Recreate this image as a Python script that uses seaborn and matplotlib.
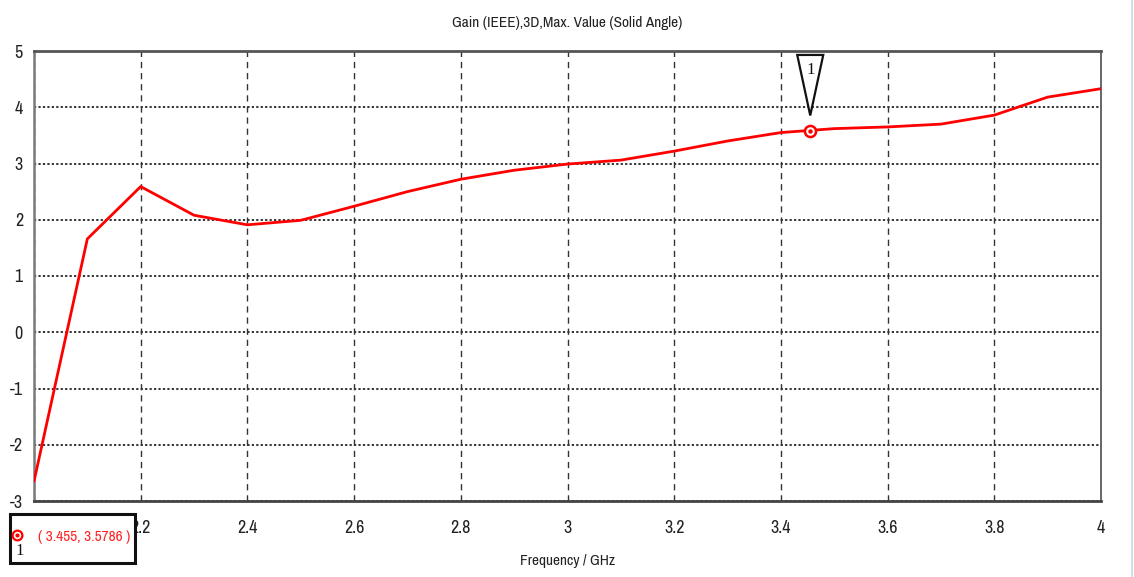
import matplotlib
matplotlib.use("Agg")
import matplotlib.pyplot as plt
import matplotlib.transforms as mtransforms
from matplotlib import font_manager as fm
from matplotlib.patches import Polygon, Rectangle
from matplotlib.lines import Line2D
import seaborn as sns
import pandas as pd

# Simulated realised gain versus frequency
freq_ghz = [2.0, 2.1, 2.2, 2.3, 2.4, 2.5, 2.6, 2.7, 2.8, 2.9, 3.0,
            3.1, 3.2, 3.3, 3.4, 3.5, 3.6, 3.7, 3.8, 3.9, 4.0]
gain_db = [-2.65, 1.66, 2.59, 2.08, 1.91, 1.99, 2.24, 2.50, 2.72, 2.88, 2.99,
           3.06, 3.22, 3.40, 3.55, 3.62, 3.65, 3.70, 3.86, 4.18, 4.33]

# Marker 1
marker_freq = 3.455
marker_gain = 3.5786
marker_id = "1"

x_ticks = [2.0, 2.2, 2.4, 2.6, 2.8, 3.0, 3.2, 3.4, 3.6, 3.8, 4.0]
# the first frequency label sits under the marker readout box
x_tick_labels = ["", "2.2", "2.4", "2.6", "2.8", "3", "3.2", "3.4", "3.6",
                 "3.8", "4"]
y_ticks = [-3, -2, -1, 0, 1, 2, 3, 4, 5]

title = "Gain (IEEE),3D,Max. Value (Solid Angle)"
x_label = "Frequency / GHz"

sns.set_style("white")


def pick_narrow_font():
    """Return (family, stretch, scale) for the narrowest sans face available."""
    rank = {"ultra-condensed": 0, "extra-condensed": 1, "condensed": 2,
            "semi-condensed": 3}
    scale = {"ultra-condensed": 1.0, "extra-condensed": 1.0, "condensed": 0.92,
             "semi-condensed": 0.85}
    best = None
    for f in fm.fontManager.ttflist:
        name = f.name
        if "Serif" in name or "Mono" in name or "CJK" in name:
            continue
        stretch = f.stretch if isinstance(f.stretch, str) else None
        if any(k in name for k in ("Narrow", "Condensed")):
            key = (rank.get(stretch, 2), name)
            st = stretch if stretch in rank else "normal"
        elif stretch in rank:
            key = (rank[stretch], name)
            st = stretch
        else:
            continue
        if f.style != "normal" or f.weight not in (400, "normal", "regular"):
            continue
        if best is None or key < best[0]:
            best = (key, name, st)
    if best is None:
        return "Liberation Sans", "normal", 0.78
    _, name, st = best
    return name, st, scale.get(st, 0.92)


FONT_NAME, FONT_STRETCH, K = pick_narrow_font()
plt.rcParams["font.family"] = [FONT_NAME, "DejaVu Sans"]
plt.rcParams["font.stretch"] = FONT_STRETCH
plt.rcParams["lines.scale_dashes"] = False

FS_TICK = 14 * K
FS_TITLE = 12 * K
FS_LABEL = 12 * K

W, H, DPI = 1134, 577, 100
fig = plt.figure(figsize=(W / DPI, H / DPI), dpi=DPI)
fig.patch.set_facecolor("white")


def px(x, y):
    """Pixel position (from top-left) to figure fraction."""
    return x / W, 1 - y / H


ax = fig.add_axes([34 / W, 1 - 501 / H, (1101 - 34) / W, (501 - 51) / H])

df = pd.DataFrame({"freq": freq_ghz, "gain": gain_db})
sns.lineplot(data=df, x="freq", y="gain", ax=ax, color="#ff0000",
             linewidth=2.0, zorder=3)

ax.set_xlim(2.0, 4.0)
ax.set_ylim(-3, 5)
ax.set_xticks(x_ticks)
ax.set_yticks(y_ticks)
ax.set_xticklabels(x_tick_labels)
ax.set_yticklabels([f"{v:g}" for v in y_ticks])
ax.set_xlabel(x_label, fontsize=FS_LABEL, labelpad=13, color="#222222")
ax.set_ylabel("")
ax.set_title(title, fontsize=FS_TITLE, pad=17, color="#222222")

ax.tick_params(axis="both", which="major", labelsize=FS_TICK,
               colors="#222222", length=5, width=1.2, direction="out")
ax.tick_params(axis="x", pad=9)
ax.tick_params(axis="y", pad=3)

# Grid: dashed verticals, dotted horizontals
ax.xaxis.grid(True, color="#333333", linewidth=1.0, linestyle=(0, (4.5, 3.5)))
ax.yaxis.grid(True, color="#333333", linewidth=1.4, linestyle=(0, (1.6, 1.6)))
ax.set_axisbelow(True)

for side, color, lw in [("left", "#7a7a7a", 1.8), ("bottom", "#444444", 2.0),
                        ("top", "#555555", 2.0), ("right", "#666666", 1.4)]:
    ax.spines[side].set_visible(True)
    ax.spines[side].set_color(color)
    ax.spines[side].set_linewidth(lw)

# Marker point on the curve
ax.plot([marker_freq], [marker_gain], marker="o", markersize=8,
        markerfacecolor="white", markeredgecolor="#ff0000",
        markeredgewidth=1.8, zorder=4)
ax.plot([marker_freq], [marker_gain], marker="o", markersize=2.2,
        color="#ff0000", zorder=5)

# Flag above the marker (offsets in inches from the data point)
flag_trans = fig.dpi_scale_trans + mtransforms.ScaledTranslation(
    marker_freq, marker_gain, ax.transData)
flag = Polygon([(-0.13, 0.76), (0.13, 0.76), (0.0, 0.155)], closed=True,
               facecolor="white", edgecolor="#111111", linewidth=1.6,
               transform=flag_trans, zorder=6, clip_on=False)
ax.add_patch(flag)
ax.text(0.0, 0.61, marker_id, transform=flag_trans, ha="center", va="center",
        fontsize=12, family=["Liberation Serif", "DejaVu Serif"],
        fontstretch="normal", color="#111111", zorder=7)

# Marker readout box at the lower left
box_x0, box_y0 = px(10, 563)
box_x1, box_y1 = px(135, 514)
fig.add_artist(Rectangle((box_x0, box_y0), box_x1 - box_x0, box_y1 - box_y0,
                         transform=fig.transFigure, facecolor="white",
                         edgecolor="#111111", linewidth=2.2, zorder=10))
rx, ry = px(17, 535)
fig.add_artist(Line2D([rx], [ry], transform=fig.transFigure, marker="o",
                      markersize=7, markerfacecolor="white",
                      markeredgecolor="#ff0000", markeredgewidth=1.6,
                      zorder=11))
fig.add_artist(Line2D([rx], [ry], transform=fig.transFigure, marker="o",
                      markersize=2, color="#ff0000", zorder=12))
fig.text(*px(20, 551), marker_id, ha="center", va="center", fontsize=12,
         family=["Liberation Serif", "DejaVu Serif"], fontstretch="normal",
         color="#111111", zorder=12)
fig.text(*px(130, 537), f"( {marker_freq:g}, {marker_gain:g} )", ha="right",
         va="center", fontsize=FS_LABEL, color="#ff2020", zorder=12)

# Light window border on the right
fig.add_artist(Line2D([1131.5 / W, 1131.5 / W], [0.0, 1.0],
                      transform=fig.transFigure, color="#d5dde8",
                      linewidth=1.5, zorder=1))

fig.savefig("out.png", dpi=DPI, facecolor="white")
